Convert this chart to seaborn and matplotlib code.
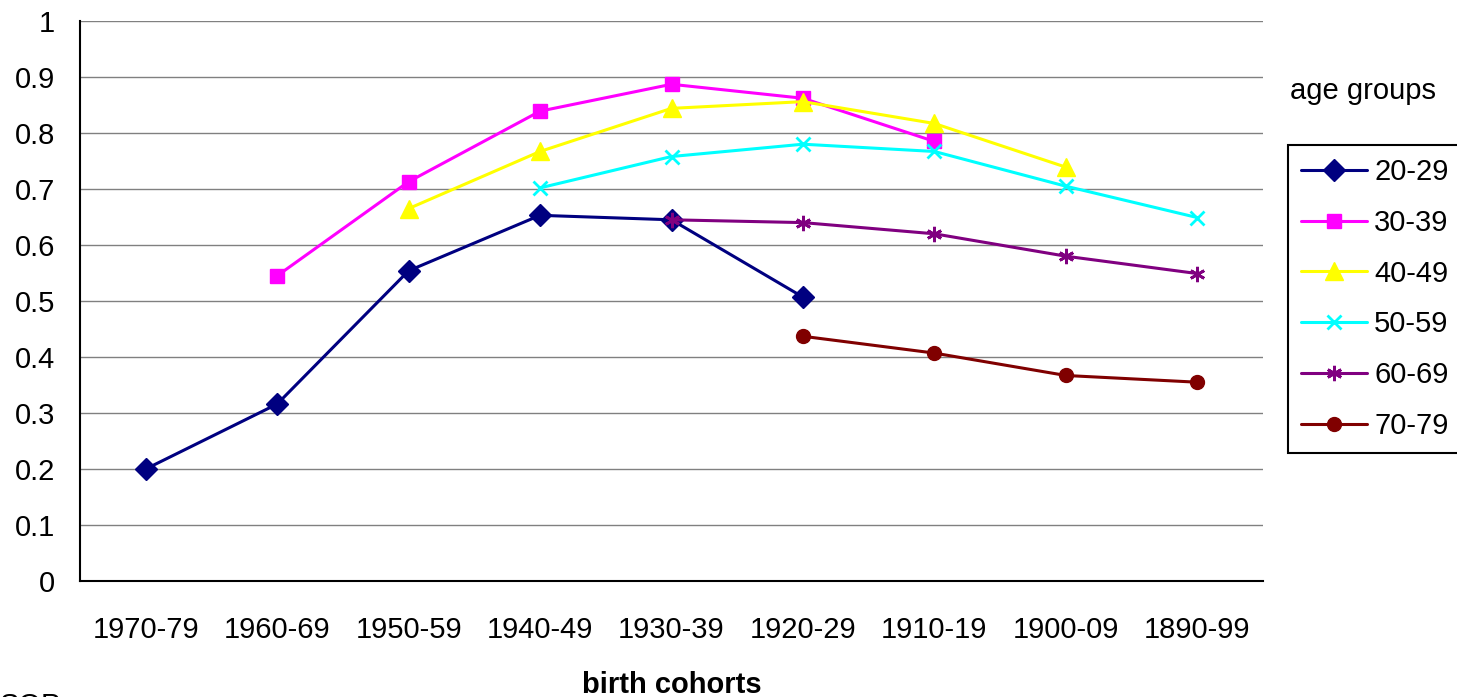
import numpy as np
import pandas as pd
import seaborn as sns
import matplotlib.pyplot as plt

cohorts = ['1970-79', '1960-69', '1950-59', '1940-49', '1930-39',
           '1920-29', '1910-19', '1900-09', '1890-99']
groups = ['20-29', '30-39', '40-49', '50-59', '60-69', '70-79']
nan = np.nan
v20 = [0.200, 0.316, 0.554, 0.653, 0.645, 0.507, nan, nan, nan]
v30 = [nan, 0.545, 0.713, 0.839, 0.887, 0.862, 0.785, nan, nan]
v40 = [nan, nan, 0.665, 0.767, 0.844, 0.856, 0.817, 0.739, nan]
v50 = [nan, nan, nan, 0.702, 0.758, 0.780, 0.767, 0.705, 0.649]
v60 = [nan, nan, nan, nan, 0.645, 0.640, 0.620, 0.580, 0.549]
v70 = [nan, nan, nan, nan, nan, 0.437, 0.407, 0.367, 0.355]

colors = ['#000080', '#ff00ff', '#ffff00', '#00ffff', '#800080', '#800000']
markers = ['D', 's', '^', 'x', (6, 2, 0), 'o']
msizes = [11, 10, 13, 10, 11, 10]

sns.set_style('white')
plt.rcParams['font.family'] = ['Liberation Sans', 'DejaVu Sans']
plt.rcParams['text.color'] = 'black'
plt.rcParams['xtick.color'] = 'black'
plt.rcParams['ytick.color'] = 'black'

fs = 21

fig = plt.figure(figsize=(14.57, 6.97), dpi=100)
ax = fig.add_axes([80 / 1457, 116 / 697, 1183 / 1457, 560 / 697])

pos = np.arange(len(cohorts))
for name, vals, c, m, ms in zip(groups, [v20, v30, v40, v50, v60, v70], colors, markers, msizes):
    df = pd.DataFrame({'x': pos, 'y': vals}).dropna()
    sns.lineplot(data=df, x='x', y='y', ax=ax, color=c, marker=m, markersize=ms,
                 markeredgecolor=c, markeredgewidth=2 if m in ('x', (6, 2, 0)) else 1,
                 linewidth=2.2, label=name, legend=False)

ax.set_xlim(-0.5, len(cohorts) - 0.5)
ax.set_ylim(0, 1)
ax.set_yticks(np.arange(0, 1.01, 0.1))
ax.set_yticklabels(['0', '0.1', '0.2', '0.3', '0.4', '0.5', '0.6', '0.7', '0.8', '0.9', '1'])
ax.set_xticks(np.arange(-0.5, len(cohorts), 1.0))
ax.set_xticklabels([])
ax.set_xticks(pos, minor=True)
ax.set_xticklabels(cohorts, minor=True)
ax.tick_params(axis='x', which='major', direction='out', length=8, width=1.5, color='black')
ax.tick_params(axis='x', which='minor', length=0, pad=25, labelsize=fs)
ax.tick_params(axis='y', direction='out', length=8, width=1.5, color='black', pad=10, labelsize=fs)
ax.grid(axis='y', color='#808080', linewidth=1)
ax.grid(axis='x', visible=False)
for s in ['top', 'right']:
    ax.spines[s].set_visible(False)
for s in ['left', 'bottom']:
    ax.spines[s].set_color('black')
    ax.spines[s].set_linewidth(1.5)
ax.set_xlabel('')
ax.set_ylabel('')

fig.text(672 / 1457, 1 - 685 / 697, 'birth cohorts', ha='center', va='center',
         fontsize=fs, fontweight='bold')
fig.text(1290 / 1457, 1 - 91 / 697, 'age groups', ha='left', va='center', fontsize=fs)
fig.text(0, 5 / 697, 'SOP', ha='left', va='top', fontsize=fs)

handles = ax.get_lines()[:len(groups)]
leg = fig.legend(handles=handles, labels=groups, loc='upper left',
                 bbox_to_anchor=(1288 / 1457, 1 - 145 / 697), fontsize=fs,
                 frameon=True, fancybox=False, edgecolor='black', framealpha=1,
                 handlelength=2.25, handletextpad=0.25, labelspacing=0.78,
                 borderpad=0.45, borderaxespad=0)
leg.get_frame().set_linewidth(1.5)

fig.savefig('out.png', dpi=100)
